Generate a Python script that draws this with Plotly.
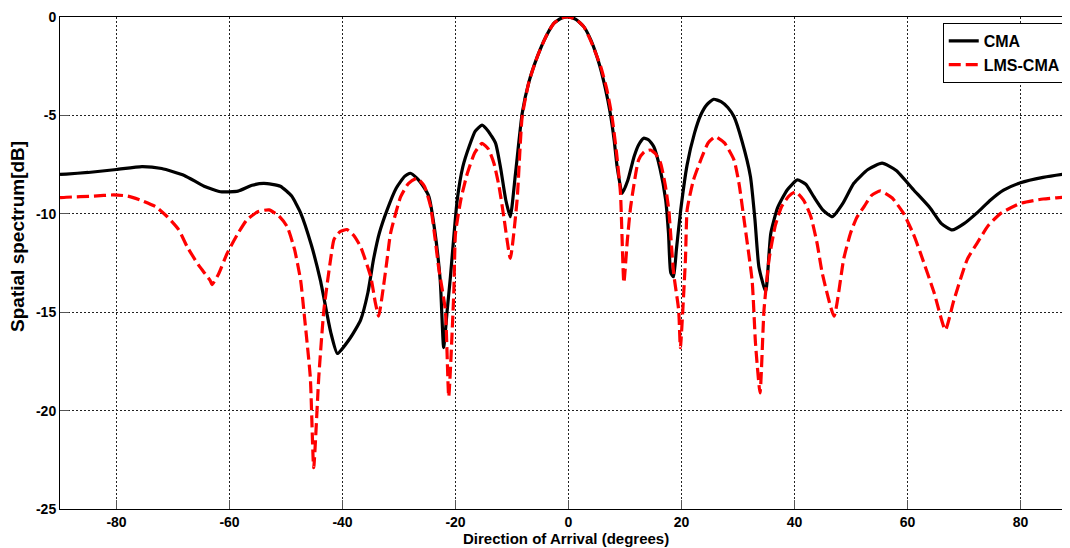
import plotly.graph_objects as go

# ---- data ----
cma_x = [-90, -88.9, -85, -80, -75.5, -72, -68, -64.5, -61.6, -58.5, -56, -53.9, -51, -49, -47.4,
         -45.5, -43.9, -42.1, -40.9, -38.6, -36.8, -35.5, -34.5, -33.5, -32.1, -30.5, -29, -28.0,
         -26.8, -25.5, -24.7, -23.7, -22.7, -22.1, -21.5, -20.9, -19.7, -18.7, -17.6, -16.5, -15.3,
         -14.2, -12.9, -12.0, -11.1, -10.3, -9.4, -8.2, -7, -5.5, -4, -2.6, -1.2, 0, 1.3, 2.7, 4,
         5.4, 6.5, 7.4, 8.1, 8.6, 9.5, 10.5, 11.6, 12.4, 13.3, 14.2, 15.1, 16.2, 17.2, 17.7, 18.1,
         18.6, 19.1, 19.8, 21, 22.3, 23.4, 24.5, 25.7, 27, 28.2, 29.3, 30.7, 32.2, 33.0, 33.7, 34.9,
         35.8, 37, 38.7, 40.5, 42, 43.4, 45, 46.7, 48.5, 50.5, 53, 55.5, 58, 61.1, 64, 66, 67.9, 70,
         72.5, 74.7, 77, 80, 84, 88.8, 90]
cma_y = [-8.0, -7.98, -7.9, -7.75, -7.6, -7.7, -8.05, -8.6, -8.88, -8.85, -8.55, -8.45, -8.6, -9.1,
         -9.96, -11.6, -13.4, -16.0, -17.1, -16.3, -15.4, -14.0, -12.3, -11.0, -9.8, -8.7, -8.1,
         -7.94, -8.2, -8.7, -9.13, -10.8, -13.4, -16.8, -15.0, -13.2, -9.3, -7.6, -6.59, -5.8, -5.49,
         -5.8, -6.42, -7.7, -9.3, -10.15, -8.0, -4.9, -3.3, -2.0, -1.0, -0.32, -0.05, 0, -0.12, -0.49,
         -1.2, -2.35, -3.6, -4.9, -6.3, -7.6, -8.96, -8.3, -7.1, -6.5, -6.16, -6.25, -6.59, -7.7,
         -9.3, -11.0, -13.0, -13.2, -11.8, -9.95, -7.5, -5.9, -4.98, -4.45, -4.18, -4.3, -4.6, -5.07,
         -6.3, -8.1, -10.3, -12.7, -13.96, -11.0, -9.7, -8.79, -8.28, -8.5, -9.13, -9.8, -10.15,
         -9.5, -8.45, -7.75, -7.43, -7.8, -8.79, -9.7, -10.5, -10.82, -10.5, -9.9, -9.3, -8.8,
         -8.42, -8.15, -7.94, -7.9]

lms_x = [-90, -88.9, -84, -80.5, -78, -75.8, -73, -71.0, -69, -67.5, -65.5, -63.4, -63.1, -62,
         -60.4, -58.5, -56.9, -55, -53.0, -51.3, -49.8, -48.5, -47.4, -46.85, -45.7, -45.1, -44.2,
         -43.3, -42.1, -41.5, -40.4, -39.2, -38, -36.8, -35.0, -34.2, -33.6, -32.8, -32.1, -31.5,
         -29.7, -28.3, -26.8, -25.5, -24.4, -23.6, -23.0, -21.8, -21.2, -20.3, -20.0, -19, -17.9,
         -16.6, -15.3, -14.2, -13.2, -12.3, -11.45, -10.3, -9.1, -8.2, -7, -5.5, -4, -2.6, -1.2, 0,
         1.3, 2.7, 4, 5.7, 6.8, 7.7, 8.5, 9.2, 9.8, 10.4, 11.0, 12.4, 13.4, 14.5, 15.4, 16.3, 17.1,
         17.75, 18.6, 19.5, 19.8, 20.7, 21.0, 22.1, 23.4, 24.7, 26.0, 27.6, 29.3, 30.2, 31.0, 32.5,
         33.1, 33.9, 34.6, 35.5, 36.6, 37.7, 39, 40.2, 41.6, 42.9, 44.0, 44.9, 47.0, 48.7, 49.9, 51,
         52.3, 53.7, 55.2, 57.3, 59.3, 61, 62.3, 64.7, 66.7, 68.2, 70.6, 72.3, 74.3, 76.5, 80.0, 84,
         88.8, 90]
lms_y = [-9.18, -9.16, -9.1, -9.04, -9.1, -9.3, -9.65, -10.15, -10.8, -11.67, -12.6, -13.4, -13.6,
         -13.1, -12.0, -11.0, -10.3, -9.9, -9.8, -10.1, -10.65, -11.8, -13.4, -14.9, -18.3, -22.9,
         -18.3, -14.9, -12.3, -11.3, -10.9, -10.8, -11.1, -11.67, -13.2, -14.5, -15.2, -13.8, -12.3,
         -11.0, -9.13, -8.45, -8.2, -8.6, -9.64, -11.3, -12.7, -14.9, -19.3, -14.0, -11.0, -9.2,
         -7.94, -6.9, -6.42, -6.7, -7.43, -8.6, -10.15, -12.26, -9.3, -5.07, -3.3, -2.0, -1.0, -0.32,
         -0.05, 0, -0.12, -0.49, -1.25, -2.52, -3.7, -5.07, -6.9, -8.96, -13.5, -11.4, -9.64, -7.27,
         -6.85, -6.76, -6.95, -7.43, -8.5, -9.8, -13.0, -14.9, -16.8, -12.3, -9.8, -8.3, -7.27, -6.4,
         -6.08, -6.4, -7.27, -8.5, -10.15, -13.4, -16.6, -19.1, -14.9, -12.3, -10.6, -9.64, -9.1,
         -8.88, -9.3, -10.15, -11.5, -13.0, -15.2, -12.3, -11.0, -10.2, -9.64, -9.05, -8.84, -9.2,
         -9.98, -11.0, -12.0, -14.0, -15.9, -14.4, -12.3, -11.5, -10.6, -9.98, -9.47, -9.25, -9.13,
         -9.1]

x_ticks = [-80, -60, -40, -20, 0, 20, 40, 60, 80]
x_tick_labels = ["-80", "-60", "-40", "-20", "0", "20", "40", "60", "80"]
y_ticks = [-25, -20, -15, -10, -5, 0]
y_tick_labels = ["-25", "-20", "-15", "-10", "-5", "0"]

FONT = "Liberation Sans, Arial, sans-serif"

fig = go.Figure()
fig.add_trace(go.Scatter(x=cma_x, y=cma_y, mode="lines", name="CMA",
                         line=dict(color="black", width=3.2, shape="spline", smoothing=0.5)))
fig.add_trace(go.Scatter(x=lms_x, y=lms_y, mode="lines", name="LMS-CMA",
                         line=dict(color="#ff0000", width=3.2, dash="12px,5px",
                                   shape="spline", smoothing=0.5)))

axis_common = dict(
    showline=True, linecolor="black", linewidth=1, automargin=False,
    showgrid=True, gridcolor="#222", gridwidth=1, griddash="2px,2px",
    zeroline=False, ticks="inside", ticklen=9, tickcolor="#555", tickwidth=1,
    tickfont=dict(family=FONT, size=14, color="black", weight="bold"),
)

fig.update_layout(
    width=1062, height=540,
    margin=dict(l=52, r=0, t=9, b=39),
    paper_bgcolor="white", plot_bgcolor="white",
    showlegend=True,
    legend=dict(x=0.874, xanchor="left", y=0.988, yanchor="top",
                bgcolor="white", bordercolor="black", borderwidth=1,
                entrywidth=125,
                font=dict(family=FONT, size=16, color="black", weight="bold"),
                tracegroupgap=0),
    xaxis=dict(range=[-90, 88.76], tickvals=x_ticks, ticktext=x_tick_labels,
               mirror=True, **axis_common),
    yaxis=dict(range=[-25, 0], tickvals=y_ticks, ticktext=y_tick_labels,
               **axis_common),
    annotations=[
        dict(text="Direction of Arrival (degrees)", xref="paper", yref="paper",
             x=0.501, y=-0.059, xanchor="center", yanchor="middle", showarrow=False,
             font=dict(family=FONT, size=15, color="black", weight="bold")),
        dict(text="Spatial spectrum[dB]", xref="paper", yref="paper",
             x=-0.0416, y=0.555, xanchor="center", yanchor="middle", showarrow=False,
             textangle=-90,
             font=dict(family=FONT, size=19, color="black", weight="bold")),
    ],
)

fig.write_html("out.html")
